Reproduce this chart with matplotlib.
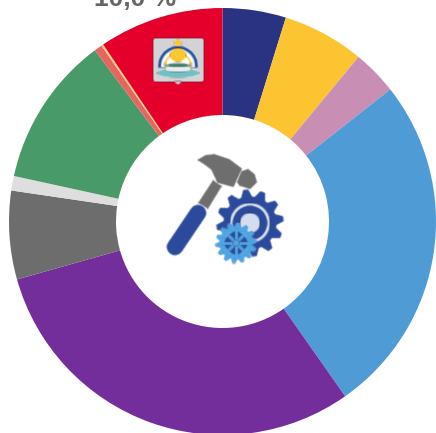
import numpy as np
from matplotlib import pyplot as plt
from matplotlib.patches import Circle, Polygon, FancyBboxPatch, Wedge, Ellipse

W = 436
H = 433

# shares, clockwise from 12 o'clock
shares = [4.8, 6.2, 3.4, 25.9, 30.4, 6.7, 1.1, 11.4, 0.6, 0.15, 9.45]
colors = ["#2a3282", "#fdc431", "#c88eb4", "#4f9bd6", "#732e9c", "#6d6d6d",
          "#dedede", "#489a68", "#e8645f", "#fbd57a", "#e4002b"]
label_text = "10,0 %"

GRAY = "#6e6e6e"
NAVY = "#2b4a9b"
LIGHT_BLUE = "#4ea5e3"


def py(y):
    return H - y


def pts(points):
    return [(x, py(y)) for x, y in points]


def soften(image, dpi):
    # icons are blurry in the reference, small blur with some padding
    pad = 3
    img = np.pad(image, ((pad, pad), (pad, pad), (0, 0)))
    kernel = np.array([0.2, 0.6, 0.2])
    for axis in (0, 1):
        img = np.apply_along_axis(lambda m: np.convolve(m, kernel, mode="same"), axis, img)
    return img, -pad, -pad


def add(ax, patch):
    patch.set_agg_filter(soften)
    ax.add_patch(patch)


def draw_gear(ax, cx, cy, r_out, r_in, teeth, color, zorder):
    angles = np.linspace(0, 2 * np.pi, teeth * 4, endpoint=False) + np.pi / teeth / 4
    radii = np.tile([r_out, r_out, r_in, r_in], teeth)
    xs = cx + radii * np.cos(angles)
    ys = py(cy) + radii * np.sin(angles)
    add(ax, Polygon(np.column_stack([xs, ys]), closed=True, fc=color, ec=color,
                    lw=1, joinstyle="round", zorder=zorder))


def draw_tool_icon(ax):
    # hammer
    shaft = [(213, 180), (222, 186), (208, 209), (198, 203)]
    add(ax, Polygon(pts(shaft), closed=True, fc=GRAY, ec="none", zorder=5))
    line = ax.plot([175, 198], [py(247), py(213)], color=NAVY, lw=12, solid_capstyle="round", zorder=5)[0]
    line.set_agg_filter(soften)
    head = [(199, 160), (206, 156), (214, 155), (229, 160), (241, 169), (233, 186),
            (218, 182), (212, 169), (204, 163)]
    add(ax, Polygon(pts(head), closed=True, fc=GRAY, ec=GRAY, lw=1.5, joinstyle="round", zorder=5))
    face = [(238, 182), (242, 172), (248, 170), (254, 175), (256, 182), (250, 188), (240, 185)]
    add(ax, Polygon(pts(face), closed=True, fc=GRAY, ec=GRAY, lw=1.5, joinstyle="round", zorder=5))
    # gears
    draw_gear(ax, 250, 223, 33, 26, 12, NAVY, 5)
    add(ax, Circle((250, py(223)), 20, fc="#dfe4f0", ec="none", zorder=6))
    add(ax, Circle((250, py(223)), 17.5, fc=NAVY, ec="none", zorder=6))
    add(ax, Circle((250, py(223)), 10, fc="#d5dcee", ec="none", zorder=6))
    draw_gear(ax, 236, 243, 20, 16, 14, LIGHT_BLUE, 8)
    add(ax, Circle((236, py(243)), 11, fc=NAVY, ec="none", zorder=9))
    for a in np.arange(0, 180, 45):
        dx = 13 * np.cos(np.radians(a))
        dy = 13 * np.sin(np.radians(a))
        spoke = ax.plot([236 - dx, 236 + dx], [py(243) - dy, py(243) + dy], color=LIGHT_BLUE,
                        lw=2.2, zorder=10)[0]
        spoke.set_agg_filter(soften)
    add(ax, Circle((236, py(243)), 3, fc=LIGHT_BLUE, ec="none", zorder=11))


def draw_emblem(ax):
    add(ax, FancyBboxPatch((153, py(82)), 51, 44, boxstyle="round,pad=0,rounding_size=3",
                           fc="#d3d3d5", ec="none", zorder=5))
    add(ax, Polygon(pts([(174, 81), (178, 85), (182, 81)]), closed=True, fc="#d3d3d5",
                    ec="none", zorder=5))
    add(ax, Wedge((178, py(66)), 20, -5, 185, fc="#1f4fa0", ec="none", zorder=6))
    add(ax, Wedge((178, py(66)), 17, -5, 185, fc="white", ec="none", zorder=6))
    add(ax, Wedge((178, py(66)), 14, 0, 180, fc="#fdd84a", ec="none", zorder=6))
    add(ax, Wedge((178, py(66)), 12, 0, 180, fc="white", ec="none", zorder=6))
    add(ax, Ellipse((178, py(55)), 16, 14, fc="#fdc82f", ec="none", zorder=7))
    add(ax, Circle((178, py(43)), 3.5, fc="#fdc82f", ec="none", zorder=7))
    add(ax, Ellipse((178, py(73)), 42, 9, fc="#6fc0c4", ec="none", zorder=7))
    add(ax, Ellipse((178, py(69)), 26, 6, fc="#e9eef0", ec="none", zorder=8))
    add(ax, Ellipse((178, py(65)), 24, 3, fc="#2e7d5f", ec="none", zorder=8))


fig = plt.figure(figsize=(W / 100, H / 100), dpi=100)
ax = fig.add_axes([0, 0, 1, 1])

ax.pie(shares, colors=colors, startangle=90, counterclock=False, radius=213.5,
       center=(222.5, py(221.5)), wedgeprops={"width": 107, "linewidth": 0})
ax.set_xlim(0, W)
ax.set_ylim(0, H)
ax.set_aspect("auto")
ax.axis("off")

ax.text(135, py(6), label_text, ha="center", va="baseline", fontsize=19, fontweight="bold",
        family="Liberation Sans", color="#666666", clip_on=False)

draw_emblem(ax)
draw_tool_icon(ax)

fig.savefig("out.png", dpi=100)
